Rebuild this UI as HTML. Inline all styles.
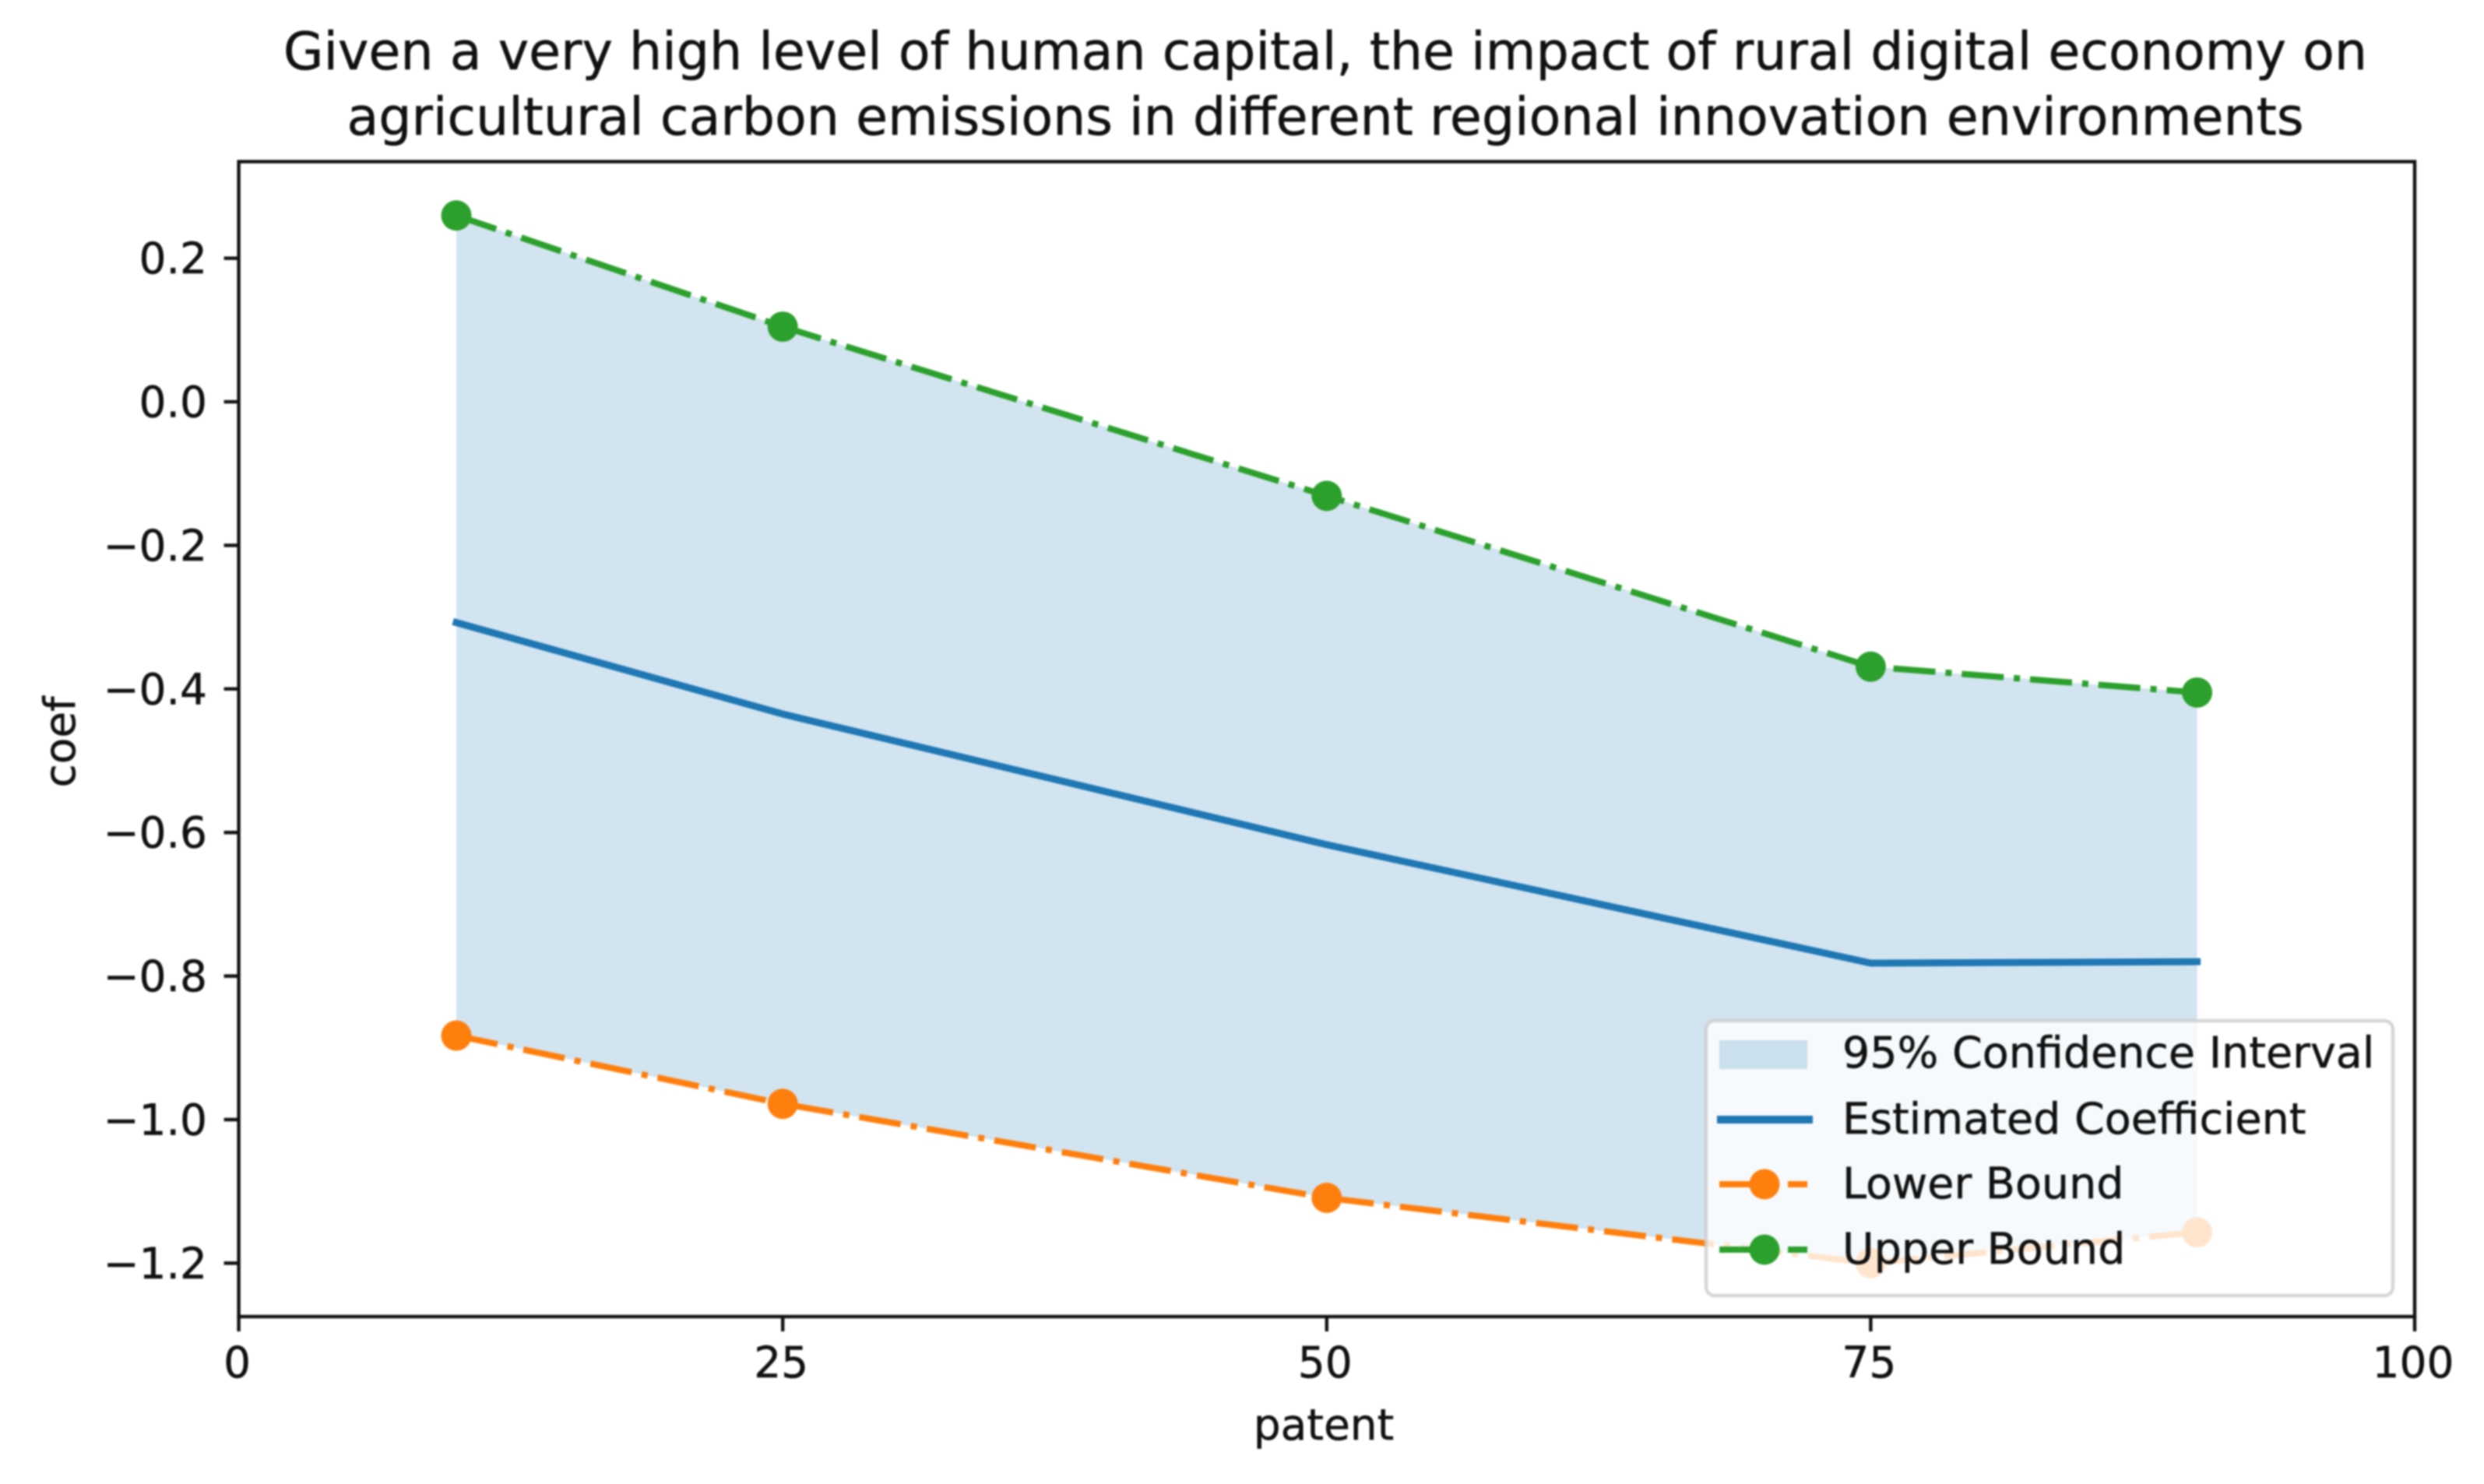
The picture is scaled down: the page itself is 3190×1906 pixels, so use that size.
<!DOCTYPE html>
<html lang="en">
<head>
<meta charset="utf-8">
<title>Impact of rural digital economy on agricultural carbon emissions</title>
<style>
html,body{margin:0;padding:0;background:#fff;width:3190px;height:1906px;overflow:hidden}
svg{display:block;filter:blur(1.1px)}
text{font-family:"DejaVu Sans","Liberation Sans",sans-serif;fill:#111;stroke:#111;stroke-width:0.5px}
</style>
</head>
<body>
<svg id="chart" xmlns="http://www.w3.org/2000/svg" width="3190" height="1906" viewBox="0 0 3190 1906">
  <rect x="0" y="0" width="3190" height="1906" fill="#fff"/>
  <text x="1702" y="89" font-size="66.6" text-anchor="middle">Given a very high level of human capital, the impact of rural digital economy on</text>
  <text x="1702" y="173" font-size="66.6" text-anchor="middle">agricultural carbon emissions in different regional innovation environments</text>
  <text x="1700" y="1849" font-size="55" text-anchor="middle">patent</text>
  <text x="96" y="953" font-size="55" text-anchor="middle" transform="rotate(-90 96 953)">coef</text>
  <g id="plot"></g>
  <g id="axes"></g>
  <g id="legend">
    <rect x="2191" y="1311" width="882" height="353" rx="11" ry="11" fill="#fff" fill-opacity="0.8" stroke="#ccc" stroke-opacity="0.8" stroke-width="4.4"/>
    <g>
      <rect x="2208" y="1336" width="113" height="37" fill="#1f77b4" fill-opacity="0.2"/>
      <text x="2366" y="1371" font-size="55.5">95% Confidence Interval</text>
    </g>
    <g>
      <line x1="2210" y1="1438" x2="2323" y2="1438" stroke="#1f77b4" stroke-width="10" stroke-linecap="square"/>
      <text x="2366" y="1456" font-size="55.5">Estimated Coefficient</text>
    </g>
    <g>
      <line x1="2208" y1="1521" x2="2321" y2="1521" stroke="#ff7f0e" stroke-width="8" stroke-dasharray="54 13 8 13"/>
      <circle cx="2266" cy="1521" r="19.5" fill="#ff7f0e"/>
      <text x="2366" y="1539" font-size="55.5">Lower Bound</text>
    </g>
    <g>
      <line x1="2208" y1="1605" x2="2321" y2="1605" stroke="#2ca02c" stroke-width="8" stroke-dasharray="54 13 8 13"/>
      <circle cx="2266" cy="1605" r="19.5" fill="#2ca02c"/>
      <text x="2366" y="1623" font-size="55.5">Upper Bound</text>
    </g>
  </g>
</svg>
<script>
const categories = [10, 25, 50, 75, 90];
const coefValues = [-0.3075, -0.435, -0.617, -0.782, -0.78];
const lowerValues = [-0.883, -0.978, -1.109, -1.2, -1.157];
const upperValues = [0.2596, 0.1047, -0.131, -0.369, -0.405];
const xTickValues = [0, 25, 50, 75, 100];
const xTickLabels = ['0', '25', '50', '75', '100'];
const yTickValues = [0.2, 0, -0.2, -0.4, -0.6, -0.8, -1.0, -1.2];
const yTickLabels = ['0.2', '0.0', '\u22120.2', '\u22120.4', '\u22120.6', '\u22120.8', '\u22121.0', '\u22121.2'];

const NS = 'http://www.w3.org/2000/svg';
const plotLeft = 306.6, plotRight = 3101, plotTop = 207.6, plotBottom = 1691;
const xScale = v => plotLeft + (v / 100) * (plotRight - plotLeft);
const yScale = v => 516.1 - v * 921.9;

function make(tag, attrs, parent) {
  const el = document.createElementNS(NS, tag);
  for (const k in attrs) el.setAttribute(k, attrs[k]);
  parent.appendChild(el);
  return el;
}
const plot = document.getElementById('plot');
const axes = document.getElementById('axes');
const toPoints = vals => vals.map((v, i) => xScale(categories[i]).toFixed(1) + ',' + yScale(v).toFixed(1)).join(' ');

const band = make('polygon', {
  points: toPoints(upperValues) + ' ' + toPoints(lowerValues).split(' ').reverse().join(' '),
  fill: '#1f77b4', 'fill-opacity': 0.2
}, plot);



const coefLine = make('polyline', {
  points: toPoints(coefValues), fill: 'none', stroke: '#1f77b4', 'stroke-width': 9, 'stroke-linecap': 'square', 'stroke-linejoin': 'round'
}, plot);



const lowerLine = make('polyline', {
  points: toPoints(lowerValues), fill: 'none', stroke: '#ff7f0e', 'stroke-width': 8, 'stroke-dasharray': '54 13 8 13'
}, plot);



lowerValues.forEach((v, i) => {
  const dot = make('circle', {cx: xScale(categories[i]), cy: yScale(v), r: 19.5, fill: '#ff7f0e'}, plot);
  
  
});

const upperLine = make('polyline', {
  points: toPoints(upperValues), fill: 'none', stroke: '#2ca02c', 'stroke-width': 8, 'stroke-dasharray': '54 13 8 13'
}, plot);



upperValues.forEach((v, i) => {
  const dot = make('circle', {cx: xScale(categories[i]), cy: yScale(v), r: 19.5, fill: '#2ca02c'}, plot);
  
  
});

const frame = make('rect', {
  x: plotLeft, y: plotTop, width: plotRight - plotLeft, height: plotBottom - plotTop, fill: 'none', stroke: '#111', 'stroke-width': 4.4
}, axes);



xTickValues.forEach((v, i) => {
  const x = xScale(v);
  const tick = make('line', {x1: x, y1: plotBottom, x2: x, y2: plotBottom + 19, stroke: '#111', 'stroke-width': 4.4}, axes);
  
  
  const label = make('text', {x: x - 2, y: 1769, 'font-size': 55, 'text-anchor': 'middle'}, axes);
  label.textContent = xTickLabels[i];
  
  
});

yTickValues.forEach((v, i) => {
  const y = yScale(v);
  const tick = make('line', {x1: plotLeft - 19, y1: y, x2: plotLeft, y2: y, stroke: '#111', 'stroke-width': 4.4}, axes);
  
  
  const label = make('text', {x: 266, y: y + 19.5, 'font-size': 55, 'text-anchor': 'end'}, axes);
  label.textContent = yTickLabels[i];
  
  
});
</script>
</body>
</html>
